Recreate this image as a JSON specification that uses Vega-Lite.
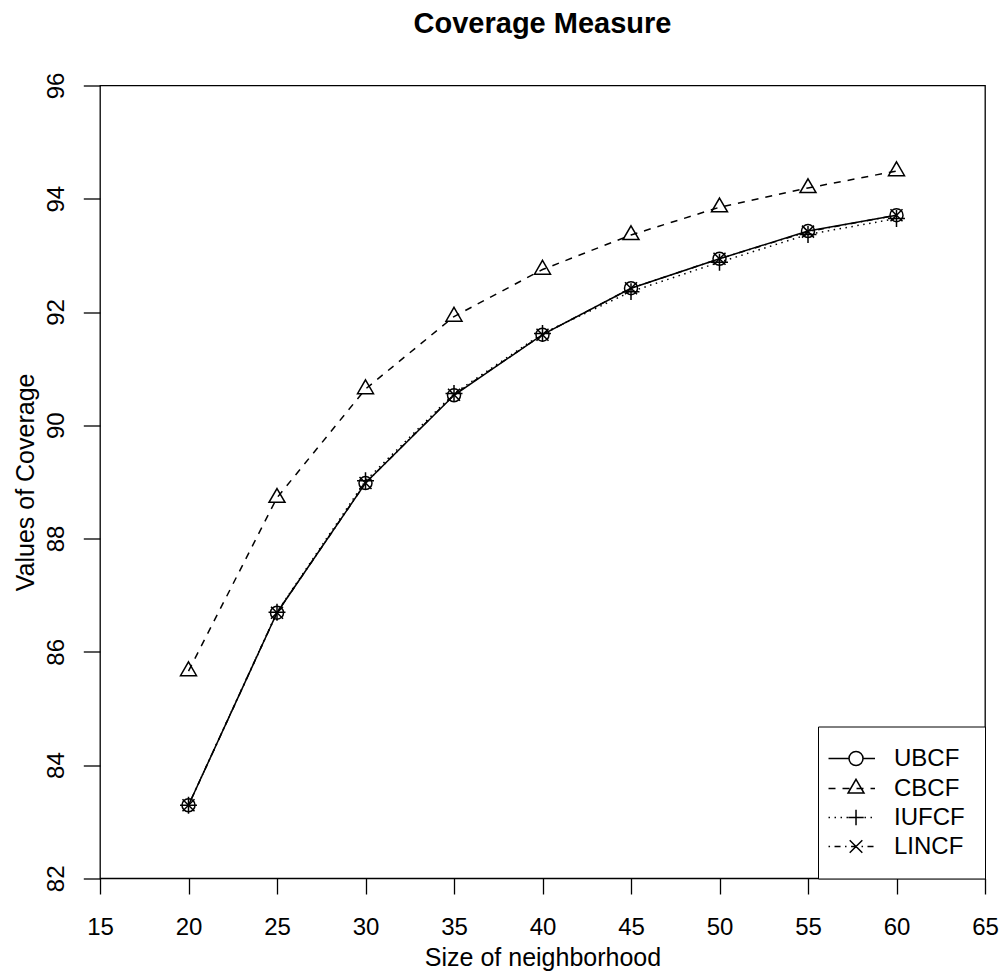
{
  "$schema": "https://vega.github.io/schema/vega-lite/v6.json",
  "autosize": {"type": "none"},
  "width": 885,
  "height": 792.8,
  "padding": {"left": 100, "top": 85.5, "right": 20, "bottom": 95.7},
  "background": "white",
  "title": {
    "text": "Coverage Measure",
    "font": "Liberation Sans",
    "fontSize": 29,
    "fontWeight": "bold",
    "color": "black",
    "anchor": "middle",
    "frame": "group",
    "baseline": "alphabetic",
    "offset": 10
  },
  "config": {
    "view": {"stroke": "black", "strokeWidth": 1.3},
    "font": "Liberation Sans"
  },
  "data": {
    "values": [
      {"x": 20, "v": 83.29, "s": "UBCF"},
      {"x": 25, "v": 86.69, "s": "UBCF"},
      {"x": 30, "v": 88.98, "s": "UBCF"},
      {"x": 35, "v": 90.53, "s": "UBCF"},
      {"x": 40, "v": 91.60, "s": "UBCF"},
      {"x": 45, "v": 92.42, "s": "UBCF"},
      {"x": 50, "v": 92.94, "s": "UBCF"},
      {"x": 55, "v": 93.43, "s": "UBCF"},
      {"x": 60, "v": 93.71, "s": "UBCF"},
      {"x": 20, "v": 85.66, "s": "CBCF"},
      {"x": 25, "v": 88.72, "s": "CBCF"},
      {"x": 30, "v": 90.64, "s": "CBCF"},
      {"x": 35, "v": 91.92, "s": "CBCF"},
      {"x": 40, "v": 92.75, "s": "CBCF"},
      {"x": 45, "v": 93.36, "s": "CBCF"},
      {"x": 50, "v": 93.85, "s": "CBCF"},
      {"x": 55, "v": 94.19, "s": "CBCF"},
      {"x": 60, "v": 94.49, "s": "CBCF"},
      {"x": 20, "v": 83.29, "s": "IUFCF"},
      {"x": 25, "v": 86.70, "s": "IUFCF"},
      {"x": 30, "v": 89.02, "s": "IUFCF"},
      {"x": 35, "v": 90.56, "s": "IUFCF"},
      {"x": 40, "v": 91.62, "s": "IUFCF"},
      {"x": 45, "v": 92.36, "s": "IUFCF"},
      {"x": 50, "v": 92.88, "s": "IUFCF"},
      {"x": 55, "v": 93.37, "s": "IUFCF"},
      {"x": 60, "v": 93.65, "s": "IUFCF"},
      {"x": 20, "v": 83.29, "s": "LINCF"},
      {"x": 25, "v": 86.69, "s": "LINCF"},
      {"x": 30, "v": 88.98, "s": "LINCF"},
      {"x": 35, "v": 90.54, "s": "LINCF"},
      {"x": 40, "v": 91.60, "s": "LINCF"},
      {"x": 45, "v": 92.42, "s": "LINCF"},
      {"x": 50, "v": 92.94, "s": "LINCF"},
      {"x": 55, "v": 93.42, "s": "LINCF"},
      {"x": 60, "v": 93.71, "s": "LINCF"}
    ]
  },
  "encoding": {
    "x": {
      "field": "x",
      "type": "quantitative",
      "scale": {"domain": [15, 65], "nice": false, "zero": false},
      "axis": {
        "values": [15, 20, 25, 30, 35, 40, 45, 50, 55, 60, 65],
        "title": "Size of neighborhood",
        "domain": false,
        "grid": false,
        "tickSize": 15.7,
        "tickWidth": 1.3,
        "tickColor": "black",
        "labelFont": "Liberation Sans",
        "labelFontSize": 24,
        "labelColor": "black",
        "labelPadding": 21,
        "labelFlush": false,
        "labelOverlap": false,
        "titleFont": "Liberation Sans",
        "titleFontSize": 25,
        "titleFontWeight": "normal",
        "titleColor": "black",
        "titleBaseline": "alphabetic",
        "titleAnchor": "middle",
        "titleY": 87
      }
    },
    "y": {
      "field": "v",
      "type": "quantitative",
      "scale": {"domain": [82, 96], "nice": false, "zero": false},
      "axis": {
        "values": [82, 84, 86, 88, 90, 92, 94, 96],
        "title": "Values of Coverage",
        "domain": false,
        "grid": false,
        "tickSize": 16.7,
        "tickWidth": 1.3,
        "tickColor": "black",
        "labelFont": "Liberation Sans",
        "labelFontSize": 24,
        "labelColor": "black",
        "labelAngle": -90,
        "labelAlign": "center",
        "labelBaseline": "alphabetic",
        "labelPadding": 20,
        "labelFlush": false,
        "labelOverlap": false,
        "titleFont": "Liberation Sans",
        "titleFontSize": 25,
        "titleFontWeight": "normal",
        "titleColor": "black",
        "titleAngle": -90,
        "titleAlign": "center",
        "titleBaseline": "alphabetic",
        "titleX": -67,
        "titleY": 396.4
      }
    }
  },
  "resolve": {"scale": {"shape": "independent"}, "legend": {"shape": "independent"}},
  "layer": [
    {
      "transform": [{"filter": "datum.s === 'UBCF'"}],
      "mark": {"type": "line", "color": "black", "strokeWidth": 1.5},
      "encoding": {}
    },
    {
      "transform": [{"filter": "datum.s === 'CBCF'"}],
      "mark": {"type": "line", "color": "black", "strokeWidth": 1.5, "strokeDash": [7, 7]},
      "encoding": {}
    },
    {
      "transform": [{"filter": "datum.s === 'IUFCF'"}],
      "mark": {"type": "line", "color": "black", "strokeWidth": 1.5, "strokeDash": [1.5, 4.5]},
      "encoding": {}
    },
    {
      "transform": [{"filter": "datum.s === 'LINCF'"}],
      "mark": {"type": "line", "color": "black", "strokeWidth": 1.5, "strokeDash": [1.5, 4.5, 6, 4.5]},
      "encoding": {}
    },
    {
      "mark": {"type": "point", "filled": false, "color": "black", "strokeWidth": 1.5, "size": 256, "opacity": 1},
      "encoding": {
        "shape": {
          "field": "s",
          "type": "nominal",
          "scale": {
            "domain": ["UBCF", "CBCF", "IUFCF", "LINCF"],
            "range": [
              "M-0.8125,0A0.8125,0.8125 0 1,0 0.8125,0A0.8125,0.8125 0 1,0 -0.8125,0",
              "M0,-1.155L1,0.577L-1,0.577Z",
              "M-1.06,0H1.06M0,-1.06V1.06",
              "M-0.75,-0.75L0.75,0.75M-0.75,0.75L0.75,-0.75"
            ]
          },
          "legend": null
        }
      }
    },
    {
      "transform": [{"filter": "false"}],
      "mark": {"type": "point", "filled": false, "color": "black", "strokeWidth": 1.5, "opacity": 1},
      "encoding": {
        "shape": {
          "field": "s",
          "type": "nominal",
          "scale": {
            "domain": ["UBCF", "CBCF", "IUFCF", "LINCF"],
            "range": [
              "M-3.07,0H-0.14M1.86,0H3.57M-0.14,0A1,1 0 1,0 1.86,0A1,1 0 1,0 -0.14,0",
              "M-3.07,0H-2.07M-1.07,0H-0.07M0.93,0H1.93M2.93,0H3.57M0.86,-1.32L2.0,0.66L-0.28,0.66Z",
              "M-3.07,0h0.21M-2.21,0h0.21M-1.35,0h0.21M-0.5,0h0.21M0.36,0h0.21M1.22,0h0.21M2.07,0h0.21M2.93,0h0.21M-0.24,0H1.96M0.86,-1.1V1.1",
              "M-3.07,0H-2.85M-2.21,0H-1.35M-0.71,0H-0.5M0.15,0H1.0M1.65,0H1.86M2.5,0H3.36M-0.04,-0.9L1.76,0.9M-0.04,0.9L1.76,-0.9"
            ]
          },
          "legend": {
            "title": null,
            "orient": "bottom-right",
            "offset": 0,
            "padding": 20,
            "strokeColor": "black",
            "fillColor": "white",
            "symbolSize": 196,
            "symbolOffset": 0,
            "symbolStrokeWidth": 1.5,
            "symbolStrokeColor": "black",
            "symbolFillColor": "transparent",
            "labelFont": "Liberation Sans",
            "labelFontSize": 24,
            "labelColor": "black",
            "labelOffset": 32,
            "labelLimit": 0,
            "rowPadding": 5
          }
        }
      }
    }
  ]
}
